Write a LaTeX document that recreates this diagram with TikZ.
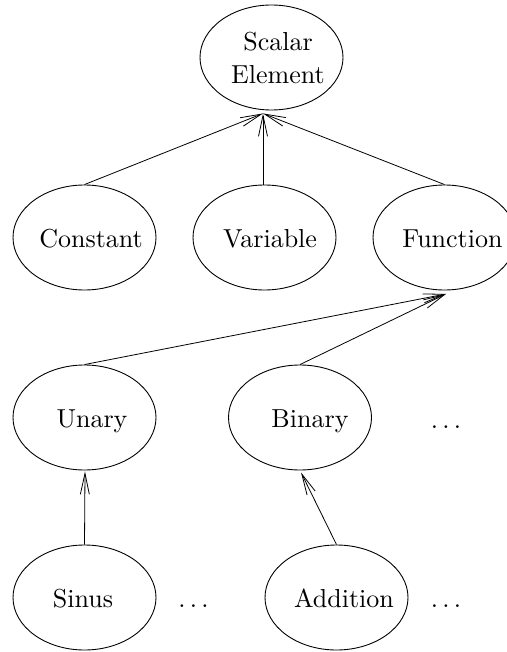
\documentclass[tikz,border=0pt]{standalone}
\usepackage{graphicx}
\usetikzlibrary{shapes.geometric,arrows.meta,calc}
\newcommand{\lbl}[2][0pt]{\makebox[0pt][c]{\hspace*{#1}\scalebox{2.6}{#2}}}
\tikzset{
  ell/.style={draw, ellipse, line width=0.9pt, minimum width=143pt, minimum height=105pt, inner sep=0pt, text height=19pt, text depth=0pt},
  ell2/.style={draw, ellipse, line width=0.9pt, minimum width=143pt, minimum height=105pt, inner sep=0pt, align=center, font=\fontsize{10}{33}\selectfont},
  dots/.style={anchor=base, inner sep=0pt},
  isa/.style={line width=0.8pt, -{Straight Barb[length=21pt,width=9pt,line width=0.8pt]}}
}
\begin{document}
\begin{tikzpicture}[x=1pt,y=1pt]
\useasboundingbox (0,0) rectangle (506,-652);
\node[ell2] (scalar) at (271.5,-57.5) {\lbl[13pt]{Scalar}\\\lbl[13pt]{Element}};
\node[ell] (constant) at (84.5,-237.5) {\lbl[13pt]{Constant}};
\node[ell] (variable) at (264.5,-237.5) {\lbl[11pt]{Variable}};
\node[ell] (function) at (444.5,-237.5) {\lbl[16pt]{Function}};
\node[ell] (unary) at (84.5,-417.5) {\lbl[15pt]{Unary}};
\node[ell] (binary) at (300,-417.5) {\lbl[20pt]{Binary}};
\node[ell] (sinus) at (84.5,-597.5) {\lbl[-3pt]{Sinus}};
\node[ell] (addition) at (336.5,-597.5) {\lbl[15pt]{Addition}};
\node[dots] (d1) at (446,-428) {\lbl{$\ldots$}};
\node[dots] (d2) at (193.5,-607) {\lbl{$\ldots$}};
\node[dots] (d3) at (446,-607) {\lbl{$\ldots$}};
\coordinate (scin) at ($(scalar.south)+(-8.5,-3)$);
\coordinate (fnin) at ($(function.south)+(1.5,-3.5)$);
\coordinate (unin) at ($(unary.south)+(0.5,-1)$);
\coordinate (bnin) at ($(binary.south)+(1,-2)$);
\draw[isa] (constant.north) -- (scin);
\draw[isa] (variable.north -| scin) -- (scin);
\draw[isa] (function.north) -- (scin);
\draw[isa] (unary.north) -- (fnin);
\draw[isa] (binary.north) -- (fnin);
\draw[isa] (sinus.north) -- (unin);
\draw[isa] (addition.north) -- (bnin);
\end{tikzpicture}
\end{document}
